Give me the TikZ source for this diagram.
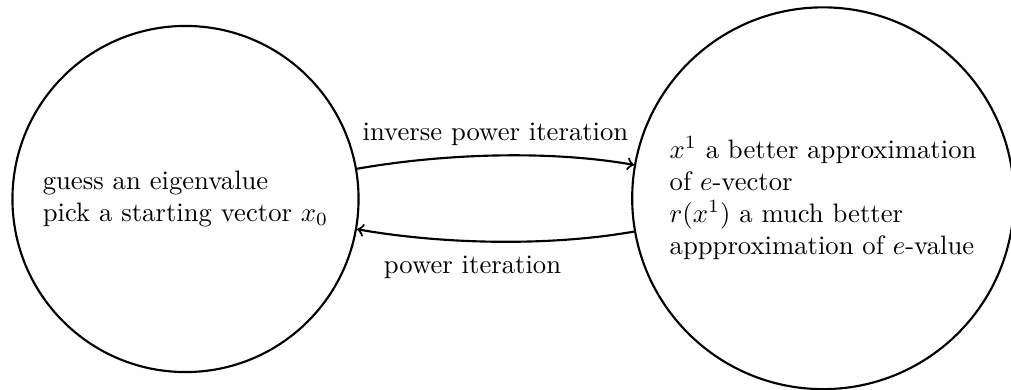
\documentclass[tikz,border=0pt]{standalone}
\usepackage{amsmath}
\usetikzlibrary{arrows,positioning,calc}

\begin{document}
\begin{tikzpicture}[thick,
  state/.style={circle,draw,align=left,inner sep=2pt}]
\useasboundingbox (-2.444,-2.516) rectangle (10.876,2.622);
\node[state,minimum size=4.56cm] (guess) at (0,0) {guess an eigenvalue\\ pick a starting vector $x_0$};
\node[state,minimum size=5.03cm] (better) at (8.4,0.01) {$x^1$ a better approximation\\ of $e$-vector\\ $r(x^1)$ a much better\\ appproximation of $e$-value};
\draw[->] (guess) to[out=10,in=170,looseness=0.8] node[above] {inverse power iteration} (better);
\draw[->] (better) to[out=190,in=-10,looseness=0.8] node[below,pos=0.58,yshift=-2pt] {power iteration} (guess);
\end{tikzpicture}
\end{document}
